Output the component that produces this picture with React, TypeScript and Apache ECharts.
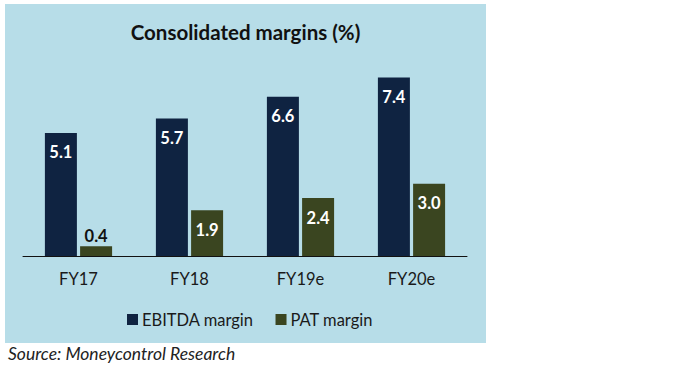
import React, { useEffect, useRef } from "react";
import * as echarts from "echarts";

const categories = ["FY17", "FY18", "FY19e", "FY20e"];
const ebitdaMargin = [5.1, 5.7, 6.6, 7.4];
const patMargin = [0.4, 1.9, 2.4, 3.0];
const seriesNames = ["EBITDA margin", "PAT margin"];
const titleText = "Consolidated margins (%)";
const sourceText = "Source: Moneycontrol Research";

const FONT = "Lato, 'Open Sans', sans-serif";

export default function App() {
  const ref = useRef<HTMLDivElement>(null);
  useEffect(() => {
    document.body.style.margin = "0";
    if (!ref.current) return;
    const chart = echarts.init(ref.current, undefined, { renderer: "svg" });
    const labelFor = (v: number) =>
      v < 1
        ? { value: v, label: { position: "top", distance: 2, color: "#111111" } }
        : v;
    const barLabel = {
      show: true,
      position: "insideTop",
      distance: 11,
      color: "#ffffff",
      fontFamily: FONT,
      fontWeight: "bold",
      fontSize: 16.5,
      formatter: (p: any) => Number(p.value).toFixed(1),
    };
    chart.setOption({
      animation: false,
      backgroundColor: "#ffffff",
      textStyle: { fontFamily: FONT },
      graphic: [
        {
          type: "rect",
          z: -10,
          silent: true,
          shape: { x: 5, y: 4, width: 481, height: 339 },
          style: { fill: "#B7DDE8" },
        },
        {
          type: "text",
          x: 245.5,
          y: 32,
          style: {
            text: titleText,
            fontFamily: FONT,
            fontSize: 20.5,
            fontWeight: "bold",
            fill: "#111111",
            align: "center",
            verticalAlign: "middle",
          },
        },
        {
          type: "text",
          x: 8,
          y: 353,
          style: {
            text: sourceText,
            fontFamily: FONT,
            fontSize: 17.5,
            fontStyle: "italic",
            fill: "#222222",
            align: "left",
            verticalAlign: "middle",
          },
        },
      ],
      legend: {
        data: seriesNames,
        left: 122,
        top: 306,
        itemWidth: 11,
        itemHeight: 11,
        itemGap: 22,
        icon: "rect",
        textStyle: { fontFamily: FONT, fontSize: 16.5, color: "#1a1a1a", padding: [0, 0, 0, -1] },
      },
      grid: { left: 23, right: 232, top: 63, bottom: 109 },
      xAxis: {
        type: "category",
        data: categories,
        axisLine: { lineStyle: { color: "#111111", width: 1 } },
        axisTick: { show: false },
        axisLabel: { fontFamily: FONT, fontSize: 16.5, color: "#1a1a1a", margin: 14 },
      },
      yAxis: { type: "value", min: 0, max: 8, show: false, splitLine: { show: false } },
      series: [
        {
          name: seriesNames[0],
          type: "bar",
          barWidth: 32,
          barGap: "10%",
          itemStyle: { color: "#0F2341" },
          label: barLabel,
          data: ebitdaMargin.map(labelFor),
        },
        {
          name: seriesNames[1],
          type: "bar",
          barWidth: 32,
          itemStyle: { color: "#3A4520" },
          label: barLabel,
          data: patMargin.map(labelFor),
        },
      ],
    });
    return () => chart.dispose();
  }, []);
  return <div ref={ref} style={{ width: 699, height: 365 }} />;
}
